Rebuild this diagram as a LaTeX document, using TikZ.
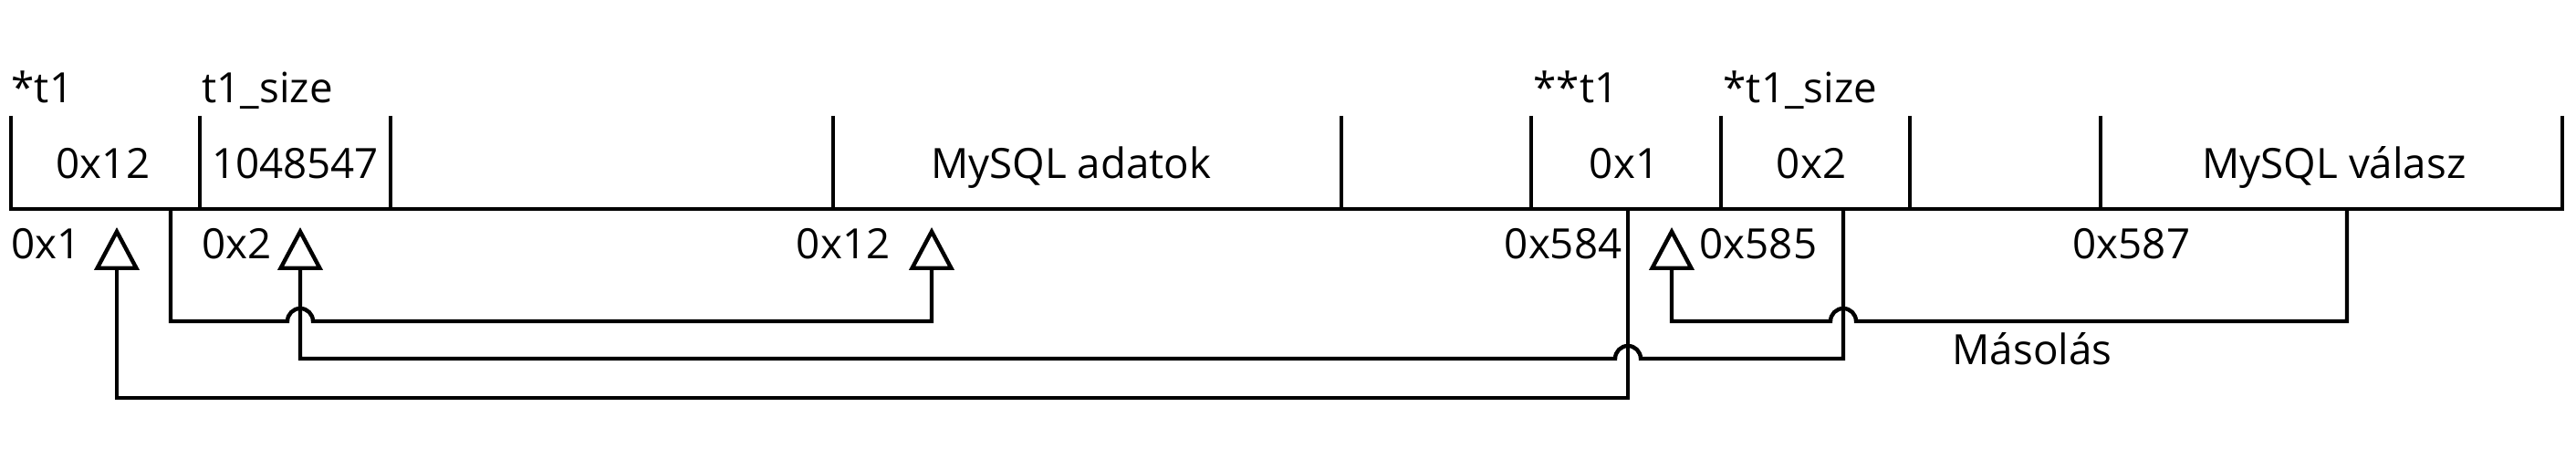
\documentclass[tikz,border=0pt]{standalone}
\usepackage{fontspec}
\setmainfont{Open Sans}
\usetikzlibrary{arrows.meta,calc}

\begin{document}
\begin{tikzpicture}[
    font=\fontsize{13pt}{15pt}\selectfont,
    wall/.style={line width=1.25pt},
    ptr/.style={line width=1.25pt, -{Triangle[open, length=0.47cm, width=0.49cm]}},
    txt/.style={inner sep=0pt, anchor=base west},
    cell/.style={inner sep=0pt, anchor=base},
  ]
  % Jump radius
  \def\jr{0.14}
  \useasboundingbox (0,0) rectangle (28.23,-4.92);

  % Memory row: baseline and cell walls
  \draw[wall, line cap=rect] (0.12,-2.29) -- (28.08,-2.29);
  \foreach \x in {0.12,2.19,4.28,9.13,14.70,16.78,18.86,20.93,23.02,28.08} {
    \draw[wall] (\x,-1.27) -- (\x,-2.29);
  }

  % Variable names
  \node[txt] (nt1)    at (0.12,-1.13)  {*t1};
  \node[txt] (nsize)  at (2.21,-1.13)  {t1\_size};
  \node[txt] (npt1)   at (16.80,-1.13) {**t1};
  \node[txt] (npsize) at (18.88,-1.13) {*t1\_size};

  % Cell contents
  \node[cell] (c12)    at (1.13,-1.96)  {0x12};
  \node[cell] (clen)   at (3.235,-1.96) {1048547};
  \node[cell] (cdata)  at (11.74,-1.96) {MySQL adatok};
  \node[cell] (cone)   at (17.80,-1.96) {0x1};
  \node[cell] (ctwo)   at (19.85,-1.96) {0x2};
  \node[cell] (cresp)  at (25.58,-1.96) {MySQL válasz};

  % Addresses
  \node[txt] (a1)   at (0.12,-2.84)  {0x1};
  \node[txt] (a2)   at (2.21,-2.84)  {0x2};
  \node[txt, anchor=base east] (a12)  at (9.76,-2.84)  {0x12};
  \node[txt, anchor=base east] (a584) at (17.78,-2.84) {0x584};
  \node[txt] (a585) at (18.62,-2.84) {0x585};
  \node[txt] (a587) at (22.71,-2.84) {0x587};
  \node[txt] (copy) at (21.39,-4.00) {Másolás};

  % Pointer ends
  \coordinate (s1) at (1.87,-2.29);
  \coordinate (s2) at (20.20,-2.29);
  \coordinate (s3) at (17.84,-2.29);
  \coordinate (s4) at (25.72,-2.29);
  \coordinate (t1) at (1.28,-2.49);
  \coordinate (t2) at (3.29,-2.49);
  \coordinate (t3) at (10.21,-2.49);
  \coordinate (t4) at (18.32,-2.49);
  \coordinate (lvA) at (0,-3.52);
  \coordinate (lvB) at (0,-3.93);
  \coordinate (lvC) at (0,-4.36);

  % Pointers
  \draw[ptr] (s1) |- ($(t2 |- lvA)+(-\jr,0)$) arc[start angle=180, end angle=0, radius=\jr] -| (t3);
  \draw[ptr] (s2) |- ($(s3 |- lvB)+(\jr,0)$) arc[start angle=0, end angle=180, radius=\jr] -| (t2);
  \draw[ptr] (s3) |- (t1 |- lvC) -- (t1);
  \draw[ptr] (s4) |- ($(s2 |- lvA)+(\jr,0)$) arc[start angle=0, end angle=180, radius=\jr] -| (t4);

\end{tikzpicture}
\end{document}
